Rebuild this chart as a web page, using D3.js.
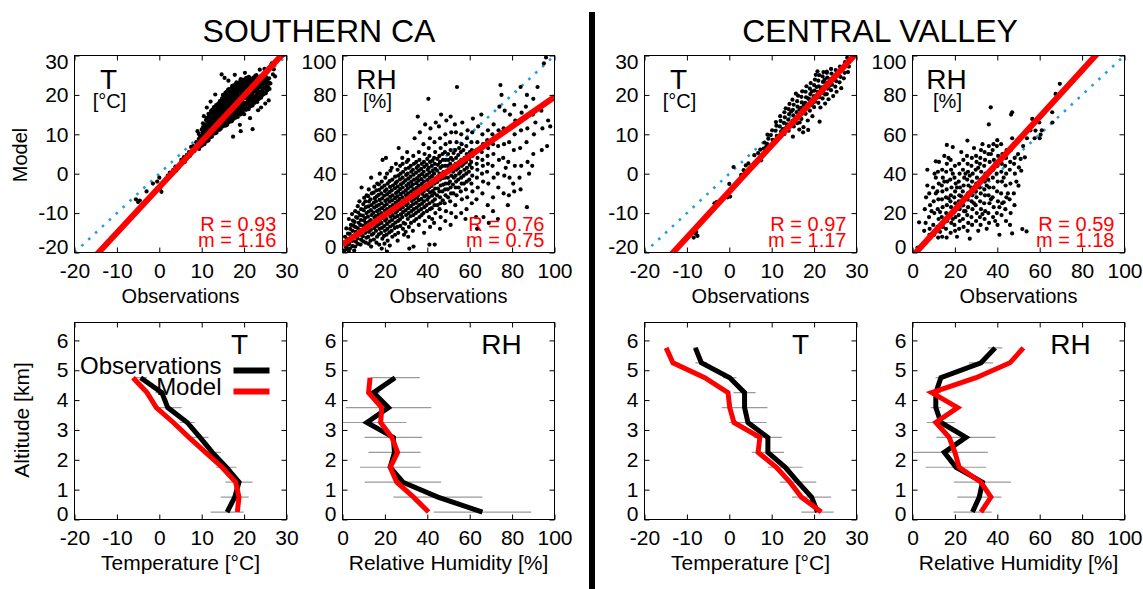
<!DOCTYPE html>
<html><head><meta charset="utf-8">
<script src="https://cdn.jsdelivr.net/npm/d3@7"></script>
<style>
html,body{margin:0;padding:0;background:#fff;}
svg{display:block;}
</style></head><body>
<svg id="chart" width="1143" height="589"></svg>
<script>
// ---------------- DATA ----------------
const regions = ["SOUTHERN CA", "CENTRAL VALLEY"];
const scatterVars = ["T", "RH", "T", "RH"];
const scatterUnits = ["[°C]", "[%]", "[°C]", "[%]"];
const tempTicks = [-20, -10, 0, 10, 20, 30];
const rhTicks = [0, 20, 40, 60, 80, 100];
const altTicks = [0, 1, 2, 3, 4, 5, 6];
const statR = ["0.93", "0.76", "0.97", "0.59"];
const statM = ["1.16", "0.75", "1.17", "1.18"];
const fitSlope = [1.16, 0.75, 1.17, 1.18];
const fitIntercept = [-3.4, 4.0, -4.5, -1.9];
const legendNames = ["Observations", "Model"];

// scatter: [observation, model]
const socalT = [
[-5.5,-6.5],[-5,-7.2],[-4.6,-6.8],[-3,-4.5],[-1.5,-2.5],[-0.5,-2],[0,-1],[0.2,-3.8],[0.5,-4.6],[1,-2.2],[1.5,-1.4],[2,-0.5],[2.5,0.3],[3,-0.2],[3.3,1],[3.8,1.8],[4,0.8],[4.5,1.5],[5,2.5],[5.2,3.5],[5.8,4.2],[6,3],[6.5,4.8],[7,5.5],[7.2,4.5],[7.5,6.8],[8,7],[8.3,5.8],[8.7,8],[9,7.2],[9.3,8.8],[9.6,6.9],
[9.4,6.3],[9.6,7.6],[9.5,8.9],[9.3,10.1],
[10.1,7.2],[9.9,8.4],[10.2,9.8],[10,11.2],
[10.6,7.5],[10.4,8.9],[10.5,10.3],[10.7,11.6],[10.3,12.8],
[11,8.1],[11.2,9.5],[10.9,10.9],[11.1,12.2],[11,13.6],
[11.6,8.4],[11.4,9.8],[11.5,11.3],[11.7,12.7],[11.4,14.1],[11.6,15.2],
[12,9.2],[12.2,10.6],[11.9,12.0],[12.1,13.3],[12,14.7],[12.2,15.9],
[12.4,9.4],[12.6,10.9],[12.5,12.4],[12.4,13.8],[12.6,15.1],[12.5,16.3],
[13.1,10.2],[12.9,11.6],[13,13.0],[13.2,14.3],[13,15.6],[12.9,16.9],
[13.5,10.4],[13.6,11.9],[13.4,13.3],[13.5,14.8],[13.6,16.1],[13.4,17.4],
[14.1,11.1],[13.9,12.5],[14,13.9],[14.2,15.2],[14,16.6],[13.9,17.8],
[14.5,11.4],[14.6,12.8],[14.4,14.3],[14.5,15.6],[14.7,17.0],[14.4,18.4],
[15,12.0],[15.2,13.5],[14.9,14.9],[15.1,16.2],[15,17.6],[15.2,18.9],[15,20],
[15.6,12.2],[15.4,13.7],[15.5,15.2],[15.6,16.6],[15.4,18.0],[15.5,19.4],[15.6,20.6],
[16,12.4],[16.1,13.9],[15.9,15.4],[16,16.9],[16.2,18.2],[16,19.6],[15.9,20.8],
[16.5,13.1],[16.6,14.6],[16.4,16.0],[16.5,17.4],[16.7,18.8],[16.5,20.1],[16.4,21.5],
[17.1,13.3],[16.9,14.8],[17,16.3],[17.2,17.7],[17,19.1],[16.9,20.5],[17.1,21.8],
[17.5,13.9],[17.6,15.4],[17.4,16.8],[17.5,18.2],[17.7,19.6],[17.4,21.0],[17.6,22.4],
[18,14.2],[18.2,15.6],[17.9,17.1],[18.1,18.5],[18,20.0],[18.2,21.4],[18,22.7],
[18.5,14.4],[18.4,15.9],[18.6,17.4],[18.5,18.9],[18.4,20.3],[18.6,21.7],[18.5,23.0],
[19.1,15.0],[18.9,16.5],[19,17.9],[19.2,19.3],[19,20.8],[18.9,22.1],[19.1,23.5],
[19.5,15.3],[19.6,16.7],[19.4,18.2],[19.5,19.6],[19.7,21.1],[19.4,22.5],[19.6,23.8],
[20,15.1],[20.2,16.6],[19.9,18.0],[20.1,19.5],[20,21.0],[20.2,22.4],[20,23.9],
[20.5,16.2],[20.4,17.6],[20.6,19.1],[20.5,20.5],[20.4,21.9],[20.6,23.2],[20.5,24.3],
[21.1,16.4],[20.9,17.9],[21,19.3],[21.2,20.7],[21,22.1],[20.9,23.5],[21.1,24.6],
[21.5,17.1],[21.6,18.5],[21.4,19.9],[21.5,21.3],[21.7,22.7],[21.4,24.0],
[22,17.3],[22.2,18.7],[21.9,20.2],[22.1,21.6],[22,23.0],[22.2,24.4],
[22.5,18.0],[22.4,19.4],[22.6,20.8],[22.5,22.2],[22.4,23.6],[22.6,24.8],
[23.1,18.2],[22.9,19.6],[23,21.1],[23.2,22.5],[23,23.9],[22.9,25.0],
[23.5,19.0],[23.6,20.4],[23.4,21.8],[23.5,23.2],[23.7,24.5],
[24,19.3],[24.2,20.7],[23.9,22.1],[24.1,23.5],[24,24.8],
[24.5,20.1],[24.4,21.5],[24.6,22.9],[24.5,24.2],
[25.1,20.4],[24.9,21.8],[25,23.2],[25.2,24.5],
[25.5,21.2],[25.6,22.6],[25.4,23.9],
[26,21.5],[26.2,22.9],[25.9,24.2],
[9.75,7.0],[9.8,8.3],[9.7,9.5],
[10.25,7.8],[10.3,9.1],[10.2,10.5],[10.3,11.8],
[10.75,8.2],[10.8,9.6],[10.7,11.0],[10.8,12.3],
[11.25,8.8],[11.3,10.2],[11.2,11.6],[11.3,12.9],[11.2,14.2],
[11.75,9.1],[11.8,10.5],[11.7,11.9],[11.8,13.3],[11.7,14.6],
[12.25,9.9],[12.3,11.3],[12.2,12.6],[12.3,14.0],[12.2,15.3],
[12.75,10.2],[12.8,11.6],[12.7,13.0],[12.8,14.4],[12.7,15.7],
[13.25,10.9],[13.3,12.3],[13.2,13.6],[13.3,15.0],[13.2,16.3],
[13.75,11.2],[13.8,12.6],[13.7,14.0],[13.8,15.4],[13.7,16.8],
[14.25,11.8],[14.3,13.2],[14.2,14.6],[14.3,15.9],[14.2,17.2],[14.3,18.4],
[14.75,12.1],[14.8,13.5],[14.7,14.9],[14.8,16.3],[14.7,17.7],[14.8,19.1],
[15.25,12.7],[15.3,14.1],[15.2,15.5],[15.3,16.9],[15.2,18.3],[15.3,19.7],
[15.75,12.9],[15.8,14.4],[15.7,15.9],[15.8,17.3],[15.7,18.7],[15.8,20.1],
[16.25,13.2],[16.3,14.7],[16.2,16.2],[16.3,17.6],[16.2,19.0],[16.3,20.4],[16.2,21.3],
[16.75,13.7],[16.8,15.2],[16.7,16.6],[16.8,18.1],[16.7,19.5],[16.8,20.9],
[17.25,14.0],[17.3,15.5],[17.2,17.0],[17.3,18.4],[17.2,19.8],[17.3,21.2],[17.2,22.3],
[17.75,14.6],[17.8,16.1],[17.7,17.5],[17.8,18.9],[17.7,20.3],[17.8,21.7],
[18.25,14.9],[18.3,16.3],[18.2,17.8],[18.3,19.2],[18.2,20.7],[18.3,22.1],[18.2,23.2],
[18.75,15.2],[18.8,16.7],[18.7,18.2],[18.8,19.6],[18.7,21.0],[18.8,22.4],
[19.25,15.7],[19.3,17.2],[19.2,18.6],[19.3,20.0],[19.2,21.5],[19.3,22.8],[19.2,24.0],
[19.75,16.0],[19.8,17.4],[19.7,18.9],[19.8,20.3],[19.7,21.8],[19.8,23.2],
[20.25,16.4],[20.3,17.9],[20.2,19.3],[20.3,20.8],[20.2,22.2],[20.3,23.6],
[20.75,16.8],[20.8,18.3],[20.7,19.7],[20.8,21.2],[20.7,22.6],[20.8,23.9],
[21.25,17.2],[21.3,18.6],[21.2,20.1],[21.3,21.5],[21.2,22.9],[21.3,24.3],
[21.75,17.6],[21.8,19.1],[21.7,20.5],[21.8,21.9],[21.7,23.3],
[22.25,18.1],[22.3,19.5],[22.2,20.9],[22.3,22.3],[22.2,23.7],
[22.75,18.5],[22.8,19.9],[22.7,21.3],[22.8,22.7],[22.7,24.1],
[23.25,18.9],[23.3,20.3],[23.2,21.7],[23.3,23.1],[23.2,24.4],
[23.75,19.5],[23.8,20.8],[23.7,22.2],[23.8,23.6],
[24.25,19.9],[24.3,21.3],[24.2,22.6],[24.3,24.0],
[24.75,20.6],[24.8,21.9],[24.7,23.3],
[25.25,21.0],[25.3,22.4],[25.2,23.8],
[25.75,21.8],[25.8,23.2],
[14.7,25.2],[15.4,24.3],[13.2,20.1],[12.1,18.3],[11.2,16.8],[16.3,23.6],[17.8,25.1],[20.2,25.6],[23.7,26.4],[26.5,28],[28.5,29.4],[27,26.5],[26.8,25.2],[25.8,18.6],[22,11.3],[17.4,9.4],[19,12.4],[21.4,14.1],[24,16.8],[25,17.8],[23.3,16.1],[10.5,14.6],[9,10.8],[27.3,24.7],[24.8,26.6],[19.2,10.8]
];

const socalRH = [
[1,1],[1.5,3],[0.8,5],[2,2],[2.5,6],[1.2,8],[3,0.5],
[3.5,2],[3.2,4.5],[3.8,7],[3.4,9.5],[3.6,12],[4,14],[3,17],
[6,3],[6.3,5.5],[5.8,8],[6.2,10.5],[6,13],[5.7,15.5],[6.4,18],[6,21],[5.5,1],
[8.5,4],[8.8,6.5],[8.2,9],[8.6,11.5],[8.4,14],[8.7,16.5],[8.3,19],[8.8,22],[9,33],[8,26],
[11,5],[11.3,7.5],[10.8,10],[11.2,12.5],[11,15],[10.7,17.5],[11.3,20],[11,23],[10.8,26],[11.4,29],
[13.5,3],[13.2,6],[13.8,9],[13.4,11.5],[13.6,14],[13.3,16.5],[13.7,19],[13.4,21.5],[13.6,24],[13.2,27],[13.8,30],[13.5,38],
[16,5],[16.3,8],[15.8,11],[16.2,13.5],[16,16],[15.7,18.5],[16.3,21],[16,23.5],[15.8,26],[16.2,28.5],[16,31.5],[16.4,35],
[18.5,2],[18.8,7],[18.2,10],[18.6,12.5],[18.4,15],[18.7,17.5],[18.3,20],[18.6,22.5],[18.4,25],[18.7,27.5],[18.3,30],[18.6,33],[18.5,36],[18.9,47],
[21,0.5],[21.3,6],[20.8,9],[21.2,12],[21,14.5],[20.7,17],[21.3,19.5],[21,22],[20.8,24.5],[21.2,27],[21,29.5],[20.7,32],[21.3,35],[21,40],[20.5,48],
[23.5,8],[23.2,11],[23.8,14],[23.4,16.5],[23.6,19],[23.3,21.5],[23.7,24],[23.4,26.5],[23.6,29],[23.2,31.5],[23.8,34],[23.5,37],[23.2,43],
[26,6],[26.3,10],[25.8,13],[26.2,16],[26,18.5],[25.7,21],[26.3,23.5],[26,26],[25.8,28.5],[26.2,31],[26,33.5],[25.7,36],[26.3,39],[26,42],[26.5,53],
[28.5,12],[28.8,15],[28.2,18],[28.6,20.5],[28.4,23],[28.7,25.5],[28.3,28],[28.6,30.5],[28.4,33],[28.7,35.5],[28.3,38],[28.6,41],[28.4,45],[28.2,48],[29,9],
[31,8],[31.3,13],[30.8,17],[31.2,20],[31,22.5],[30.7,25],[31.3,27.5],[31,30],[30.8,32.5],[31.2,35],[31,37.5],[30.7,40],[31.3,43],[31,47],[30.5,51],[31.5,2],
[33.5,3],[33.2,11],[33.8,16],[33.4,19],[33.6,22],[33.3,24.5],[33.7,27],[33.4,29.5],[33.6,32],[33.2,34.5],[33.8,37],[33.5,39.5],[33.2,42],[33.7,45],[33.4,49],[34,58],
[36,14],[36.3,18],[35.8,21],[36.2,24],[36,26.5],[35.7,29],[36.3,31.5],[36,34],[35.8,36.5],[36.2,39],[36,41.5],[35.7,44],[36.3,47],[36,51],[35.5,69],[36.5,61],
[38.5,10],[38.8,16],[38.2,20],[38.6,23],[38.4,26],[38.7,28.5],[38.3,31],[38.6,33.5],[38.4,36],[38.7,38.5],[38.3,41],[38.6,43.5],[38.4,46],[38.7,50],[38.2,55],[39,65],
[41,4],[41.3,13],[40.8,18],[41.2,22],[41,25],[40.7,28],[41.3,30.5],[41,33],[40.8,35.5],[41.2,38],[41,40.5],[40.7,43],[41.3,46],[41,49],[40.7,53],[41.2,58],[40.5,78],[41.5,63],
[43.5,4],[43.2,15],[43.8,20],[43.4,24],[43.6,27],[43.3,30],[43.7,32.5],[43.4,35],[43.6,37.5],[43.2,40],[43.8,42.5],[43.5,45],[43.2,48],[43.7,51],[43.4,56],[44,66],
[46,12],[46.3,18],[45.8,22],[46.2,25],[46,28],[45.7,31],[46.3,34],[46,37],[45.8,40],[46.2,43],[46,46],[45.7,49],[46.3,53],[46,58],[45.5,64],[46.5,70],
[48.5,16],[48.8,21],[48.2,25],[48.6,29],[48.4,32],[48.7,35],[48.3,38],[48.6,41],[48.4,44],[48.7,47],[48.3,51],[48.6,55],[48.5,60],[49,67],
[51,14],[51.3,20],[50.8,26],[51.2,30],[51,33],[50.7,36],[51.3,39],[51,42],[50.8,45],[51.2,48],[51,52],[50.7,56],[51.3,61],[51,69],
[53.5,18],[53.2,24],[53.8,29],[53.4,33],[53.6,36],[53.3,39],[53.7,42],[53.4,45],[53.6,48],[53.2,52],[53.8,56],[53.5,61],[54,84],[53,65],
[56,20],[56.3,27],[55.8,31],[56.2,35],[56,38],[55.7,41],[56.3,44],[56,47],[55.8,51],[56.2,55],[56,60],[56.5,66],
[58.5,22],[58.8,28],[58.2,32],[58.6,36],[58.4,40],[58.7,43],[58.3,46],[58.6,50],[58.4,54],[58.7,58],[59,62],[58,17],
[61,25],[61.3,31],[60.8,35],[61.2,39],[61,43],[60.7,46],[61.3,49],[61,52],[60.8,56],[61.2,61],[61.5,68],
[63.5,12],[63.2,27],[63.8,33],[63.4,38],[63.6,42],[63.3,45],[63.7,48],[63.4,52],[63.6,56],[64,64],[63,18],
[66,30],[66.3,36],[65.8,40],[66.2,44],[66,47],[65.7,51],[66.3,55],[66,60],[66.5,18],[65.5,70],
[68.5,24],[68.8,35],[68.2,41],[68.6,45],[68.4,49],[68.7,53],[68.3,57],[68.6,62],[69,15],
[71,28],[71.3,38],[70.8,44],[71.2,50],[71,55],[70.7,60],[71.3,65],[71,21],
[73.5,33],[73.2,40],[73.8,47],[73.4,54],[73.6,62],[73.3,17],[74,74],[74.5,85],[75,80],
[76,30],[76.3,39],[75.8,48],[76.2,55],[76,63],[76.5,72],[77,43],
[78.5,29],[78.8,38],[78.2,46],[78.6,56],[78.4,63],[79,70],[78,24],
[81,31],[81.3,44],[80.8,52],[81.2,60],[81,75],[81.5,67],[80.5,35],
[84,32],[84.3,44],[83.8,53],[84.2,62],[84,84],[84.5,71],[83.5,38],
[87,23],[87.3,46],[86.8,56],[87.2,63],[87,80],[88,40],[86.5,74],
[90,50],[90.3,60],[89.8,70],[90,78],[91,66],[89.5,44],
[94,52],[94.3,63],[93.8,72],[95,96],[96,99],[97,67],[96.5,54],[98,64],[92,84],
[2.3,3.8],[2.1,6.9],[2.6,9.6],[1.8,12.2],
[4.8,3.2],[4.6,5.9],[5,8.4],[4.7,11],[5.1,13.6],[4.9,16.2],[4.5,19.5],
[7.3,4.4],[7.1,7.1],[7.5,9.8],[7.2,12.4],[7.6,15.1],[7.0,17.6],[7.4,20.3],[7.2,23.5],
[9.8,5.6],[9.6,8.3],[10,11],[9.7,13.6],[10.1,16.2],[9.6,18.7],[10,21.5],[9.8,24.6],[10.2,27.8],
[12.3,4.4],[12.1,7.9],[12.5,10.5],[12.2,13.2],[12.6,15.7],[12,18.2],[12.4,20.8],[12.2,23.4],[12.5,25.9],[12.1,28.6],[12.4,32],
[14.8,6.6],[14.6,9.6],[15,12.4],[14.7,15.2],[15.1,17.7],[14.6,20.2],[15,22.8],[14.8,25.3],[15.2,27.6],[14.7,30.4],[15,33.4],
[17.3,4],[17.1,9.2],[17.5,12],[17.2,14.4],[17.6,16.8],[17,19.2],[17.4,21.8],[17.2,24.2],[17.5,26.7],[17.1,29.3],[17.4,31.8],[17.2,34.6],[17.6,40],
[19.8,4.5],[19.6,8.4],[20,11],[19.7,13.4],[20.1,16.2],[19.6,18.8],[20,21.3],[19.8,23.7],[20.2,26.2],[19.7,28.8],[20,31.2],[19.8,34],[20.2,38],
[22.3,3.5],[22.1,10.2],[22.5,13.2],[22.2,15.7],[22.6,18.2],[22,20.8],[22.4,23.2],[22.2,25.8],[22.5,28.2],[22.1,30.6],[22.4,33.3],[22.2,36.2],[22.6,41.5],
[24.8,9],[24.6,12.4],[25,15.2],[24.7,17.8],[25.1,20.2],[24.6,22.6],[25,25.2],[24.8,27.6],[25.2,30.2],[24.7,32.6],[25,35.2],[24.8,38.5],[25.2,45],
[27.3,13.5],[27.1,16.8],[27.5,19.4],[27.2,22],[27.6,24.6],[27,27.2],[27.4,29.6],[27.2,32.2],[27.5,34.6],[27.1,37.1],[27.4,40],[27.2,44],
[29.8,10.5],[29.6,14.6],[30,19],[29.7,21.4],[30.1,24],[29.6,26.6],[30,29],[29.8,31.4],[30.2,34],[29.7,36.6],[30,39.4],[29.8,42.5],[30.3,46],
[32.3,15],[32.1,18.4],[32.5,21],[32.2,23.5],[32.6,26.2],[32,28.8],[32.4,31],[32.2,33.5],[32.5,36],[32.1,38.5],[32.4,41],[32.2,44],
[34.8,17],[34.6,20],[35,22.8],[34.7,25.2],[35.1,27.8],[34.6,30.2],[35,32.8],[34.8,35.2],[35.2,37.8],[34.7,40.5],[35,43],[34.8,46],
[37.3,19],[37.1,22],[37.5,24.8],[37.2,27.2],[37.6,29.8],[37,32.2],[37.4,34.8],[37.2,37.2],[37.5,39.8],[37.1,42.4],[37.4,45],
[39.8,21],[39.6,24],[40,26.8],[39.7,29.2],[40.1,31.8],[39.6,34.2],[40,36.8],[39.8,39.4],[40.2,42],[39.7,44.6],[40,47.5],
[42.3,17],[42.1,22.5],[42.5,26],[42.2,28.8],[42.6,31.2],[42,33.8],[42.4,36.2],[42.2,38.8],[42.5,41.4],[42.1,44],[42.4,46.6],
[44.8,24],[44.6,29],[45,32.5],[44.7,35.8],[45.1,38.6],[44.6,41.6],[45,44.5],[44.8,47.5],
[47.3,26.5],[47.1,31],[47.5,34.5],[47.2,37.8],[47.6,40.8],[47,43.8],[47.4,47],[47.2,50],
[49.8,28],[49.6,32],[50,35],[49.7,38],[50.1,41],[49.6,44],[50,47],[49.8,50],
[52.3,30],[52.1,34.5],[52.5,38],[52.2,41],[52.6,44],[52,47],[52.4,50.5],
[54.8,33],[54.6,37],[55,40],[54.7,43],[55.1,46],[54.6,49.5],[55,53],
[57.3,35],[57.1,39],[57.5,42],[57.2,45],[57.6,48],[57,52],
[59.8,37],[59.6,41],[60,44.5],[59.7,47.5],[60.1,51]
];

const cvT = [
[-8.4,-16.2],[-8,-15.2],[-7.5,-15.8],[-7.8,-14.8],[-3.5,-7.5],[-3,-7.2],[-0.4,-6],[0,-4.7],[0.2,-5.8],[0,-2.6],[1,1.7],[3.4,0.9],[3.9,2.1],[2.8,-0.3],[4.5,2.6],[5.9,4.7],[7.5,3.4],[6.8,5.2],[7.3,6.1],[8.1,6.4],[8.7,6.8],[8.3,7.9],
[9.1,6.3],[8.9,7.6],[9.2,8.9],[9,9.9],
[10,7.4],[10.2,8.6],[9.8,9.8],[10.1,11.0],
[11,8.2],[11.2,9.6],[10.9,10.9],[11.1,12.2],[11,13.1],
[12,9.3],[12.2,10.7],[11.9,12.0],[12.1,13.4],[12,14.6],
[13,10.1],[13.2,11.5],[12.9,12.9],[13.1,14.3],[13,15.6],[13.3,16.6],
[14,10.9],[14.2,12.3],[13.9,13.7],[14.1,15.1],[14,16.4],[14.2,17.7],
[15,9.4],[15.2,12.0],[14.9,13.4],[15.1,14.8],[15,16.2],[15.2,17.5],[14.9,18.8],[15.7,20.3],
[16,12.8],[16.2,14.2],[15.9,15.6],[16.1,17.0],[16,18.4],[16.2,19.8],[16.5,11.2],
[17,13.9],[17.2,15.3],[16.9,16.7],[17.1,18.1],[17,19.5],[17.2,20.9],[17.5,11.8],
[18,15.2],[18.2,16.6],[17.9,18.0],[18.1,19.4],[18,20.8],[18.2,22.2],[18.5,13.5],
[19,16.0],[19.2,17.4],[18.9,18.8],[19.1,20.2],[19,21.6],[19.2,23.0],[19.6,14.6],
[20,16.9],[20.2,18.3],[19.9,19.7],[20.1,21.1],[20,22.5],[20.2,23.9],[20.4,25.1],
[21,18.0],[21.2,19.4],[20.9,20.8],[21.1,22.2],[21,23.6],[21.2,25.0],[20.8,26.0],[21.5,16.8],
[22,19.1],[22.2,20.5],[21.9,21.9],[22.1,23.3],[22,24.7],[22.2,25.8],[22.6,17.8],
[23,20.2],[23.2,21.6],[22.9,23.0],[23.1,24.4],[23,25.6],[23.4,18.9],
[24,21.2],[24.2,22.6],[23.9,24.0],[24.1,25.4],[24,26.6],[24.5,19.7],
[25,22.1],[25.2,23.5],[24.9,24.9],[25.1,26.3],[25.3,20.8],
[26,23.2],[26.2,24.6],[25.9,26.0],[26.1,27.2],[26.4,21.7],
[27,24.2],[27.2,25.6],[26.9,27.0],[27.3,28.3],
[28,25.8],[28.2,27.2],[28.5,28.8],[27.8,29.4],
[18.6,11.1],[21.3,13.2],[17.4,10.5],[23,25.9],
[15.5,14.1],[16.6,16.3],[17.6,17.4],[18.6,19.1],[19.5,20.9],[20.6,22.0],[21.6,21.5],[22.5,23.9],[23.6,22.3],[24.6,24.3],[16.6,13.0],[19.6,17.9],[22.6,20.1],[25.6,25.0],[13.6,12.5],[12.6,11.3],[14.6,15.8]
];

const cvRH = [
[6.2,15],[5.8,22],[6.4,28],[7,42],[3.1,15.3],[5.5,11],[8,9],[2.4,2.5],
[8.1,12],[7.8,18],[8.3,24],[7.9,30],
[10.2,9],[9.8,14],[10.3,20],[10,26],[9.7,33],[10.4,40],[11,46.3],
[12.1,7.6],[11.8,13],[12.3,17],[11.9,22],[12.2,27],[11.7,31],[12.4,35],[12,41],[12.5,46],
[14,8],[14.3,13],[13.8,18],[14.2,23],[13.9,27],[14.1,31],[13.8,34],[14.3,38],[14,42],
[16.1,7.6],[15.8,12],[16.3,16],[15.9,20],[16.2,24],[15.8,28],[16.1,32],[16.4,36],[15.9,41],[16.2,45],[16.2,54.6],
[18,10],[18.3,15],[17.8,19],[18.2,23],[17.9,26],[18.1,29],[18.4,33],[17.8,37],[18.2,42],[18,47],[19,53.5],
[20.1,11],[19.8,14],[20.3,18],[19.9,21],[20.2,25],[19.7,28],[20.1,31],[20.4,35],[19.8,38],[20,44],
[22,12],[22.3,16],[21.8,19],[22.2,22],[21.9,26],[22.1,29],[22.4,33],[21.8,36],[22.2,40],[22,45],
[24.1,13],[23.8,17],[24.3,21],[23.9,24],[24.2,27],[23.7,31],[24.1,34],[24.4,38],[23.8,42],[24,47],
[26,11],[26.3,15],[25.8,19],[26.2,23],[25.9,27],[26.1,30],[26.4,34],[25.8,37],[26.2,41],[26,45],[25.7,49],[25.9,56.8],
[28.1,14],[27.8,18],[28.3,22],[27.9,26],[28.2,29],[27.7,33],[28.1,36],[28.4,40],[27.8,44],[28,48],
[30,16],[30.3,20],[29.8,24],[30.2,28],[29.9,31],[30.1,35],[30.4,38],[29.8,42],[30.2,46],[30,49],
[32.1,14],[31.8,18],[32.3,22],[31.9,26],[32.2,30],[31.7,33],[32.1,37],[32.4,41],[31.8,45],[32,48],[32.3,52],
[34,17],[34.3,21],[33.8,25],[34.2,29],[33.9,32],[34.1,36],[34.4,40],[33.8,44],[34.2,47],[34,51],
[36.1,15],[35.8,20],[36.3,25],[35.9,29],[36.2,33],[35.7,37],[36.1,41],[36.4,46],[35.8,50],[36,54],[36,65],
[38,18],[38.3,23],[37.8,28],[38.2,33],[37.9,38],[38.1,42],[38.4,47],[37.8,52],[38.2,55],[36.9,73.7],
[40.1,14],[39.8,20],[40.3,26],[39.9,31],[40.2,36],[39.7,40],[40.1,44],[40.4,49],[39.8,54],[40,57],
[42,19],[42.3,25],[41.8,30],[42.2,36],[41.9,41],[42.1,45],[42.4,50],[41.8,55],
[44.1,16],[43.8,22],[44.3,28],[43.9,34],[44.2,40],[43.7,44],[44.1,48],[44.4,52],
[46,14],[46.3,20],[45.8,27],[46.2,35],[45.9,42],[46.1,46],[46.4,52],[47,71.2],[46.5,70],
[48.1,24],[47.8,30],[48.3,40],[47.9,45],[48.2,48],[47.8,55],[47,9.7],
[50,33.9],[50.2,43.2],[51.3,41.5],[51,47.5],[49.8,50],[50.2,56.8],
[51.8,11.9],[53,48.3],[52.2,54],[53.8,10.7],[54,58],
[56.5,67.8],[55.6,62],[58,61.9],[57.6,58],[60.4,59.8],[60,58],[61,62],[59.8,66],
[65.9,71.2],[66,66],[67.5,80.5],[69.5,85.6],
[11,30],[13,20.5],[15,36],[17,27.5],[19,17],[21,33],[23,28.5],[25,21],[27,39],[29,25],[31,43],[33,19.5],[35,34],[37,27],[39,45],[41,23],[43,38],[45,30],[15,49],[23,51],[29,53],[33,55],[21,8],[27,7],[35,12],[41,9],[13,10.5],[31,11],[39,16],[45,52],[43,25.5],[49,36],[25,40],[19,40],[17,48],[11,38],[9,21],[7,34],[37,50],[47,58]
];

const altSoCal = [0.25, 0.75, 1.25, 1.75, 2.25, 2.75, 3.25, 3.75, 4.25, 4.75];
const socalObsT = [16.0, 17.8, 18.8, 15.8, 12.5, 9.6, 6.6, 2.0, 0.6, -4.4];
const socalModT = [18.4, 18.8, 18.0, 14.8, 10.9, 7.0, 3.3, -0.7, -2.9, -6.2];
const socalSdT  = [3.9, 3.3, 3.2, 2.4, 2.0, 2.0, 1.8, 3.3, 1.5, 1.5];
const socalObsRH = [66, 45, 28.5, 22.5, 24.5, 24, 11.5, 21.7, 14.6, 24.8];
const socalModRH = [40.6, 33.5, 25.6, 22.5, 26, 23.3, 18, 18.5, 12.3, 13];
const socalSdRH  = [23, 21, 18, 14.3, 12.3, 13.6, 18.7, 20.2, 3, 11.6];

const altCV = [0.25, 0.75, 1.25, 1.75, 2.25, 2.75, 3.25, 3.75, 4.25, 4.75, 5.25, 5.75];
const cvObsT = [20.8, 19.4, 16.2, 13.2, 9.1, 9.1, 4.4, 3.6, 3.6, 0.1, -6.6, -8.0];
const cvModT = [21.7, 17.0, 14.3, 11.1, 6.8, 7.2, 1.1, 0.1, -0.3, -5.8, -13.3, -14.9];
const cvSdT  = [3.8, 4.6, 4.3, 4.1, 3.8, 3.3, 4.4, 5.4, 2.6, 1.6, 1.4, 0.5];
const cvObsRH = [28.3, 31.5, 33, 20.5, 15, 25.2, 13.4, 11, 11, 13.4, 32.3, 39];
const cvModRH = [32.3, 37, 32.3, 22, 20, 17.3, 11, 21.3, 9.1, 30, 46, 52.3];
const cvSdRH  = [9, 10.4, 13.4, 14.3, 20.5, 13.9, 6.7, 2.4, 2.4, 2.5, 5.7, 3.4];

// ---------------- LAYOUT / STYLE ----------------
const FONT = '"Liberation Sans", Arial, Helvetica, sans-serif';
const RED = "#ff0000", BLUE = "#239fd8", GREY = "#9a9a9a";
const colLeft = [74, 342, 644, 912];
const rowTop = [55, 322];
const W = 212, H = 197;
const tempDomain = [-20, 30], rhDomain = [0, 100], altDomain = [0, 6.6];

const svg = d3.select("#chart").attr("font-family", FONT);

function frame(g, x, y, xt, yt) {
  const fmt = d => String(d);
  const gb = g.append("g").attr("transform", `translate(0,${H})`)
    .call(d3.axisBottom(x).tickValues(xt).tickSize(-5).tickPadding(11).tickFormat(fmt));
  const gl = g.append("g")
    .call(d3.axisLeft(y).tickValues(yt).tickSize(-5).tickPadding(6).tickFormat(fmt));
  g.append("g").call(d3.axisTop(x).tickValues(xt).tickSize(-5).tickFormat(""));
  g.append("g").attr("transform", `translate(${W},0)`)
    .call(d3.axisRight(y).tickValues(yt).tickSize(-5).tickFormat(""));
  g.selectAll(".domain").remove();
  g.selectAll(".tick line").attr("stroke", "#000");
  g.selectAll(".tick text").attr("fill", "#000");
  [gb, gl].forEach(a => a.attr("font-size", 21).attr("font-family", FONT));
  gl.selectAll(".tick text").attr("y", d => {
    const p = y(d);
    if (p < 6.5) return 6.5 - p;
    if (p > H - 6) return H - 6 - p;
    return 0;
  });
  g.append("rect").attr("width", W).attr("height", H)
    .attr("fill", "none").attr("stroke", "#000").attr("stroke-width", 1);
}

function scatter(i, pts) {
  const isT = scatterVars[i] === "T";
  const dom = isT ? tempDomain : rhDomain;
  const ticks = isT ? tempTicks : rhTicks;
  const x = d3.scaleLinear().domain(dom).range([0, W]);
  const y = d3.scaleLinear().domain(dom).range([H, 0]);
  const g = svg.append("g").attr("transform", `translate(${colLeft[i] + 0.5},${rowTop[0] + 0.5})`);
  const cid = "cs" + i;
  g.append("clipPath").attr("id", cid).append("rect").attr("width", W).attr("height", H);
  const p = g.append("g").attr("clip-path", `url(#${cid})`);
  p.append("line").attr("x1", x(dom[0])).attr("y1", y(dom[0])).attr("x2", x(dom[1])).attr("y2", y(dom[1]))
    .attr("stroke", BLUE).attr("stroke-width", 2.6).attr("stroke-dasharray", "2.6 6.8");
  p.selectAll("circle").data(pts).join("circle")
    .attr("cx", d => x(d[0])).attr("cy", d => y(d[1])).attr("r", 2.1).attr("fill", "#000");
  const m = fitSlope[i], b = fitIntercept[i];
  p.append("line").attr("x1", x(dom[0])).attr("y1", y(m * dom[0] + b))
    .attr("x2", x(dom[1])).attr("y2", y(m * dom[1] + b))
    .attr("stroke", RED).attr("stroke-width", 6);
  frame(g, x, y, ticks, ticks);
  g.append("text").attr("x", 34).attr("y", 33).attr("text-anchor", "middle")
    .attr("font-size", 28).text(scatterVars[i]);
  g.append("text").attr("x", 35).attr("y", 52).attr("text-anchor", "middle")
    .attr("font-size", 20).text(scatterUnits[i]);
  g.append("text").attr("x", W - 10).attr("y", H - 22).attr("text-anchor", "end")
    .attr("font-size", 20).attr("fill", RED).text("R = " + statR[i]);
  g.append("text").attr("x", W - 10).attr("y", H - 6).attr("text-anchor", "end")
    .attr("font-size", 20).attr("fill", RED).text("m = " + statM[i]);
  g.append("text").attr("x", W / 2).attr("y", 247).attr("text-anchor", "middle")
    .attr("font-size", 20).text("Observations");
}

const profLabelX = [165, 159, 156, 158];
function profile(i, alt, obs, mod, sd) {
  const isT = scatterVars[i] === "T";
  const dom = isT ? tempDomain : rhDomain;
  const ticks = isT ? tempTicks : rhTicks;
  const x = d3.scaleLinear().domain(dom).range([0, W]);
  const y = d3.scaleLinear().domain(altDomain).range([H, 0]);
  const g = svg.append("g").attr("transform", `translate(${colLeft[i] + 0.5},${rowTop[1] + 0.5})`);
  const cid = "cp" + i;
  g.append("clipPath").attr("id", cid).append("rect").attr("width", W).attr("height", H);
  const p = g.append("g").attr("clip-path", `url(#${cid})`);
  p.selectAll("line.err").data(alt).join("line").attr("class", "err")
    .attr("x1", (d, j) => x(obs[j] - sd[j])).attr("x2", (d, j) => x(obs[j] + sd[j]))
    .attr("y1", d => y(d)).attr("y2", d => y(d))
    .attr("stroke", GREY).attr("stroke-width", 1.2);
  const line = d3.line().x(d => x(d[0])).y(d => y(d[1]));
  p.append("path").attr("d", line(alt.map((a, j) => [obs[j], a])))
    .attr("fill", "none").attr("stroke", "#000").attr("stroke-width", 5);
  p.append("path").attr("d", line(alt.map((a, j) => [mod[j], a])))
    .attr("fill", "none").attr("stroke", RED).attr("stroke-width", 5);
  frame(g, x, y, ticks, altTicks);
  g.append("text").attr("x", profLabelX[i]).attr("y", 31).attr("text-anchor", "middle")
    .attr("font-size", 28).text(scatterVars[i]);
  g.append("text").attr("x", W / 2).attr("y", 247).attr("text-anchor", "middle")
    .attr("font-size", 21).text(isT ? "Temperature [°C]" : "Relative Humidity [%]");
  return g;
}

scatter(0, socalT);
scatter(1, socalRH);
scatter(2, cvT);
scatter(3, cvRH);
const g0 = profile(0, altSoCal, socalObsT, socalModT, socalSdT);
profile(1, altSoCal, socalObsRH, socalModRH, socalSdRH);
profile(2, altCV, cvObsT, cvModT, cvSdT);
profile(3, altCV, cvObsRH, cvModRH, cvSdRH);

// legend in first profile panel
[["#000", 0], [RED, 1]].forEach(([c, k]) => {
  g0.append("text").attr("x", 147).attr("y", 51 + k * 21).attr("text-anchor", "end")
    .attr("font-size", 24).text(legendNames[k]);
  g0.append("line").attr("x1", 159).attr("x2", 195).attr("y1", 48 + k * 21).attr("y2", 48 + k * 21)
    .attr("stroke", c).attr("stroke-width", 6);
});

// titles, shared labels, divider
svg.append("text").attr("x", 319).attr("y", 42).attr("text-anchor", "middle").attr("font-size", 32).text(regions[0]);
svg.append("text").attr("x", 880).attr("y", 42).attr("text-anchor", "middle").attr("font-size", 32).text(regions[1]);
svg.append("text").attr("transform", "translate(27,155) rotate(-90)").attr("text-anchor", "middle")
  .attr("font-size", 20).text("Model");
svg.append("text").attr("transform", "translate(29,420) rotate(-90)").attr("text-anchor", "middle")
  .attr("font-size", 21).text("Altitude [km]");
svg.append("rect").attr("x", 589).attr("y", 12).attr("width", 6).attr("height", 577).attr("fill", "#000");
</script>
</body></html>
